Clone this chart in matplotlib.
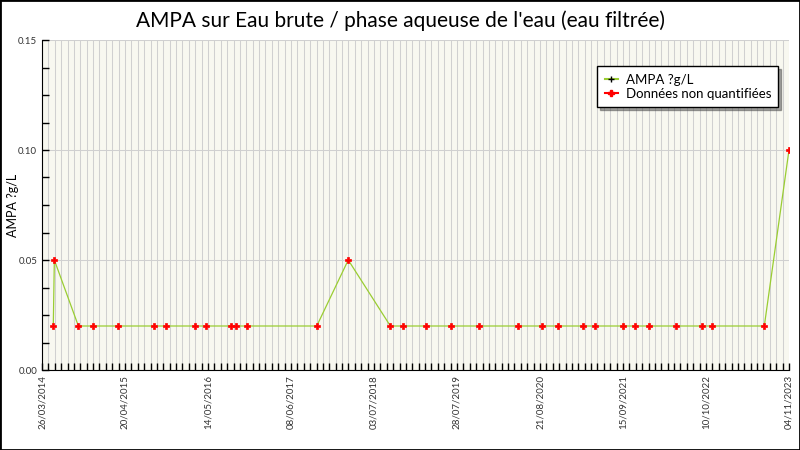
import numpy as np
import matplotlib
matplotlib.use("Agg")
import matplotlib.pyplot as plt
import matplotlib.dates as mdates
from matplotlib.lines import Line2D
from matplotlib.patches import Rectangle

plt.rcParams['font.family'] = ['Lato', 'DejaVu Sans']

# sampling dates and AMPA values (all flagged as non quantified)
dates = ["2014-05-18", "2014-05-23", "2014-09-13", "2014-11-22", "2015-03-19",
         "2015-09-05", "2015-10-31", "2016-03-13", "2016-05-06", "2016-09-01",
         "2016-09-21", "2016-11-15", "2017-10-07", "2018-03-04", "2018-09-18",
         "2018-11-18", "2019-03-06", "2019-07-01", "2019-11-10", "2020-05-11",
         "2020-09-01", "2020-11-15", "2021-03-13", "2021-05-08", "2021-09-17",
         "2021-11-12", "2022-01-17", "2022-05-24", "2022-09-23", "2022-11-09",
         "2023-07-11", "2023-11-04"]
values = [0.02, 0.05, 0.02, 0.02, 0.02,
          0.02, 0.02, 0.02, 0.02, 0.02,
          0.02, 0.02, 0.02, 0.05, 0.02,
          0.02, 0.02, 0.02, 0.02, 0.02,
          0.02, 0.02, 0.02, 0.02, 0.02,
          0.02, 0.02, 0.02, 0.02, 0.02,
          0.02, 0.10]

title = "AMPA sur Eau brute / phase aqueuse de l'eau (eau filtrée)"
ylabel = "AMPA ?g/L"
start, end = np.datetime64("2014-03-26"), np.datetime64("2023-11-04")

x = mdates.date2num(np.array(dates, dtype="datetime64[D]"))

fig = plt.figure(figsize=(8, 4.5), dpi=100)
fig.patches.append(Rectangle((0, 0), 1, 1, transform=fig.transFigure,
                             fill=False, edgecolor="black", linewidth=2))
ax = fig.add_axes([42 / 800, 1 - 370 / 450, 747 / 800, 330 / 450])
ax.set_facecolor("#f8f8f0")

ax.plot(x, values, color="#9acd32", linewidth=0.9, zorder=3)
ax.plot(x, values, linestyle="none", marker="P", markersize=4,
        color="red", markeredgecolor="red", markeredgewidth=0.5, zorder=4)

ax.set_xlim(mdates.date2num(start), mdates.date2num(end))
ax.set_ylim(0, 0.15)

major = np.arange(start, end + np.timedelta64(1, "D"), np.timedelta64(390, "D"))
minor = np.arange(start, end + np.timedelta64(1, "D"), np.timedelta64(30, "D"))
ax.set_xticks(mdates.date2num(major))
ax.set_xticks(mdates.date2num(minor), minor=True)
ax.xaxis.set_major_formatter(mdates.DateFormatter("%d/%m/%Y"))
ax.set_yticks([0, 0.05, 0.10, 0.15])
ax.set_yticks(np.arange(0, 0.15, 0.0125), minor=True)
ax.yaxis.set_major_formatter(plt.FormatStrFormatter("%.2f"))

ax.tick_params(axis="both", which="both", direction="in", length=5,
               width=1, colors="black", labelsize=7, labelcolor="#333333")
ax.tick_params(axis="x", rotation=90)
ax.grid(True, axis="x", which="both", color="#d0d0d0", linewidth=0.75, zorder=0)
ax.grid(True, axis="y", which="major", color="#d0d0d0", linewidth=0.75, zorder=0)
ax.set_axisbelow(True)

for side in ("top", "right"):
    ax.spines[side].set_visible(False)

ax.set_ylabel(ylabel, fontsize=9, va="center")
ax.yaxis.set_label_coords(-29 / 747, 0.5)
fig.text(0.5, 0.955, title, ha="center", va="center", fontsize=15)

handles = [
    Line2D([], [], color="#9acd32", marker="+", markersize=4,
           markeredgecolor="black"),
    Line2D([], [], color="red", marker="P", markersize=5),
]
leg = ax.legend(handles, [ylabel, "Données non quantifiées"],
                loc="upper right", bbox_to_anchor=(0.9946, 0.94),
                fontsize=9.5, frameon=True, fancybox=False, shadow=True,
                handlelength=1.0, handletextpad=0.6, borderpad=0.55,
                labelspacing=0.15)
leg.get_frame().set_edgecolor("black")
leg.get_frame().set_linewidth(1)

fig.savefig("out.png", dpi=100)
